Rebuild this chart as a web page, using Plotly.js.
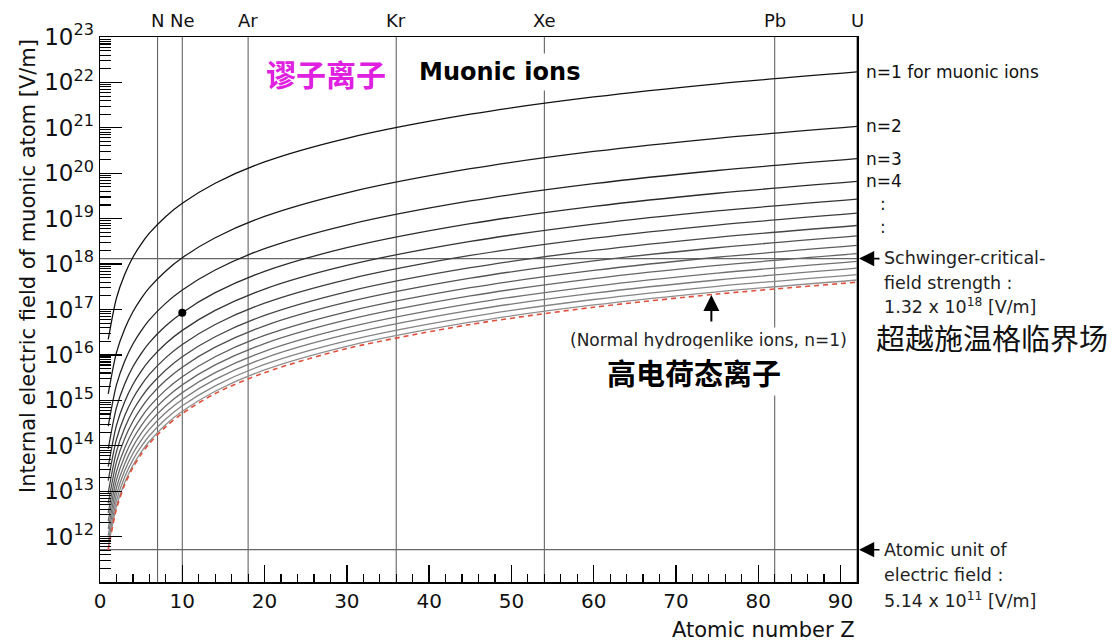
<!DOCTYPE html>
<html>
<head>
<meta charset="utf-8">
<script src="https://cdn.plot.ly/plotly-3.0.1.min.js"></script>
<style>html,body{margin:0;padding:0;background:#fff;}#chart{width:1120px;height:642px;}</style>
</head>
<body>
<div id="chart"></div>
<script>
// Atomic number Z sample points
const Z = [1, 2, 3, 4, 5, 6, 8, 10, 14, 20, 30, 45, 60, 75, 92];
const muon_n1  = [16.34, 17.25, 17.77, 18.15, 18.44, 18.68, 19.05, 19.34, 19.78, 20.25, 20.77, 21.30, 21.68, 21.97, 22.23];
const muon_n2  = [15.14, 16.05, 16.57, 16.95, 17.24, 17.48, 17.85, 18.14, 18.58, 19.05, 19.57, 20.10, 20.48, 20.77, 21.03];
const muon_n3  = [14.43, 15.34, 15.86, 16.24, 16.53, 16.77, 17.14, 17.43, 17.87, 18.34, 18.86, 19.39, 19.77, 20.06, 20.32];
const muon_n4  = [13.93, 14.84, 15.36, 15.74, 16.03, 16.27, 16.64, 16.93, 17.37, 17.84, 18.36, 18.89, 19.27, 19.56, 19.82];
const muon_n5  = [13.54, 14.45, 14.97, 15.35, 15.64, 15.88, 16.25, 16.54, 16.98, 17.45, 17.97, 18.50, 18.88, 19.17, 19.43];
const muon_n6  = [13.23, 14.14, 14.66, 15.04, 15.33, 15.57, 15.94, 16.23, 16.67, 17.14, 17.66, 18.19, 18.57, 18.86, 19.12];
const muon_n7  = [12.96, 13.87, 14.39, 14.77, 15.06, 15.30, 15.67, 15.96, 16.40, 16.87, 17.39, 17.92, 18.30, 18.59, 18.85];
const muon_n8  = [12.73, 13.64, 14.16, 14.54, 14.83, 15.07, 15.44, 15.73, 16.17, 16.64, 17.16, 17.69, 18.07, 18.36, 18.62];
const muon_n9  = [12.52, 13.43, 13.95, 14.33, 14.62, 14.86, 15.23, 15.52, 15.96, 16.43, 16.95, 17.48, 17.86, 18.15, 18.41];
const muon_n10 = [12.34, 13.25, 13.77, 14.15, 14.44, 14.68, 15.05, 15.34, 15.78, 16.25, 16.77, 17.30, 17.68, 17.97, 18.23];
const muon_n11 = [12.17, 13.08, 13.60, 13.98, 14.27, 14.51, 14.88, 15.17, 15.61, 16.08, 16.60, 17.13, 17.51, 17.80, 18.06];
const muon_n12 = [12.02, 12.93, 13.45, 13.83, 14.12, 14.36, 14.73, 15.02, 15.46, 15.93, 16.45, 16.98, 17.36, 17.65, 17.91];
const muon_n13 = [11.88, 12.79, 13.31, 13.69, 13.98, 14.22, 14.59, 14.88, 15.32, 15.79, 16.31, 16.84, 17.22, 17.51, 17.77];
const muon_n14 = [11.76, 12.67, 13.19, 13.57, 13.86, 14.10, 14.47, 14.76, 15.20, 15.67, 16.19, 16.72, 17.10, 17.39, 17.65];
// normal hydrogenlike ions, n=1 (red dashed)
const hydrogenlike = [11.71, 12.61, 13.14, 13.52, 13.81, 14.05, 14.42, 14.71, 15.15, 15.61, 16.14, 16.67, 17.05, 17.34, 17.60];

const muonSeries = [muon_n1, muon_n2, muon_n3, muon_n4, muon_n5, muon_n6, muon_n7,
                    muon_n8, muon_n9, muon_n10, muon_n11, muon_n12, muon_n13, muon_n14];
const muonLabels = ['n=1 for muonic ions', 'n=2', 'n=3', 'n=4'];

// reference elements
const elementNames = ['N', 'Ne', 'Ar', 'Kr', 'Xe', 'Pb', 'U'];
const elementZ = [7, 10, 18, 36, 54, 82, 92];

// reference field levels [V/m]
const schwingerField = 1.32e18;
const atomicUnitField = 5.14e11;

// marked point (Ne, n=4)
const markZ = [10];
const markE = [8.5e16];

// tick labels
const yTickExp = [12, 13, 14, 15, 16, 17, 18, 19, 20, 21, 22, 23];
const xTickVals = [0, 10, 20, 30, 40, 50, 60, 70, 80, 90];

const FONT = 'DejaVu Sans, Liberation Sans, Arial, sans-serif';
const CJK = 'Noto Sans CJK SC, sans-serif';

const L = 100, R = 857, T = 37, B = 582;
const px = p => (p - L) / (R - L);
const py = p => (B - p) / (B - T);

const pow10 = a => a.map(v => Math.pow(10, v));

const traces = [];
elementZ.forEach(z => {
  traces.push({x: [z, z], y: [1e11, 1e23], mode: 'lines', line: {color: '#555', width: 1}, hoverinfo: 'skip'});
});
[schwingerField, atomicUnitField].forEach(v => {
  traces.push({x: [0, 92], y: [v, v], mode: 'lines', line: {color: '#666', width: 1.2}, hoverinfo: 'skip'});
});
const greys = ['#111111','#1a1a1a','#222222','#2b2b2b','#333333','#3d3d3d','#474747',
               '#525252','#5c5c5c','#666666','#707070','#7a7a7a','#858585','#8f8f8f'];
for (let i = muonSeries.length - 1; i >= 0; i--) {
  traces.push({x: Z, y: pow10(muonSeries[i]), mode: 'lines',
    line: {color: greys[i], width: 1.3, shape: 'spline', smoothing: 0.8}, hoverinfo: 'skip'});
}
traces.push({x: Z, y: pow10(hydrogenlike), mode: 'lines',
  line: {color: '#e0503c', width: 1.6, dash: '5px,4px', shape: 'spline', smoothing: 0.8}, hoverinfo: 'skip'});
traces.push({x: markZ, y: markE, mode: 'markers', marker: {color: '#000', size: 8}, hoverinfo: 'skip'});

const yMinor = [];
for (let e = 11; e < 23; e++) for (let m = 2; m <= 9; m++) yMinor.push(m * Math.pow(10, e));

const ann = [];
elementZ.forEach((z, i) => ann.push({xref: 'x', yref: 'paper', x: z, y: py(20), yanchor: 'middle',
  xanchor: 'center', text: elementNames[i], showarrow: false, font: {family: FONT, size: 18, color: '#111'}}));
muonLabels.forEach((t, i) => ann.push({xref: 'paper', yref: 'y', x: px(864), y: muonSeries[i][muonSeries[i].length - 1],
  xanchor: 'left', yanchor: 'middle', text: t, showarrow: false, font: {family: FONT, size: 17, color: '#111'}}));
[204, 227].forEach(p => ann.push({xref: 'paper', yref: 'paper', x: px(883), y: py(p), xanchor: 'center', yanchor: 'middle',
  text: ':', showarrow: false, font: {family: FONT, size: 17, color: '#222'}}));
// Schwinger arrow + text
ann.push({xref: 'paper', yref: 'y', x: px(859), y: Math.log10(schwingerField), text: '', showarrow: true,
  ax: 22, ay: 0, arrowhead: 2, arrowsize: 1.9, arrowwidth: 1.6, arrowcolor: '#000'});
[['Schwinger-critical-', 258], ['field strength :', 283], ['1.32 x 10<sup>18</sup> [V/m]', 306]].forEach(d =>
  ann.push({xref: 'paper', yref: 'paper', x: px(882), y: py(d[1]), xanchor: 'left', yanchor: 'middle', text: d[0],
    showarrow: false, font: {family: FONT, size: 17.5, color: '#222'}}));
ann.push({xref: 'paper', yref: 'paper', x: px(992), y: py(337), xanchor: 'center', yanchor: 'middle',
  text: '超越施温格临界场', showarrow: false, font: {family: CJK, size: 29, color: '#111'}});
// Atomic unit arrow + text
ann.push({xref: 'paper', yref: 'y', x: px(859), y: Math.log10(atomicUnitField), text: '', showarrow: true,
  ax: 22, ay: 0, arrowhead: 2, arrowsize: 1.9, arrowwidth: 1.6, arrowcolor: '#000'});
[['Atomic unit of', 550], ['electric field :', 575], ['5.14 x 10<sup>11</sup> [V/m]', 600]].forEach(d =>
  ann.push({xref: 'paper', yref: 'paper', x: px(882), y: py(d[1]), xanchor: 'left', yanchor: 'middle', text: d[0],
    showarrow: false, font: {family: FONT, size: 17.5, color: '#222'}}));
// normal hydrogenlike arrow + labels
ann.push({xref: 'x', yref: 'y', x: 74.3, y: 17.32, text: '', showarrow: true, ax: 0, ay: 28,
  arrowhead: 2, arrowsize: 1.6, arrowwidth: 2, arrowcolor: '#000'});
ann.push({xref: 'paper', yref: 'paper', x: px(708), y: py(340), xanchor: 'center', yanchor: 'middle',
  text: '(Normal hydrogenlike ions, n=1)', showarrow: false, bgcolor: '#fff', borderpad: 2,
  font: {family: FONT, size: 17, color: '#222'}});
ann.push({xref: 'paper', yref: 'paper', x: px(694), y: py(372), xanchor: 'center', yanchor: 'middle',
  text: '<b>高电荷态离子</b>', showarrow: false, bgcolor: '#fff', borderpad: 2,
  font: {family: CJK, size: 29, color: '#000'}});
ann.push({xref: 'paper', yref: 'paper', x: px(326), y: py(73), xanchor: 'center', yanchor: 'middle',
  text: '<b>谬子离子</b>', showarrow: false, font: {family: CJK, size: 30, color: '#e020e0'}});
ann.push({xref: 'paper', yref: 'paper', x: px(499), y: py(72), xanchor: 'center', yanchor: 'middle',
  text: '<b>Muonic ions</b>', showarrow: false, bgcolor: '#fff', borderpad: 4,
  font: {family: FONT, size: 24, color: '#000'}});
ann.push({xref: 'paper', yref: 'paper', x: 1, y: py(630), xanchor: 'right', yanchor: 'middle',
  text: 'Atomic number Z', showarrow: false, font: {family: FONT, size: 21, color: '#111'}});
ann.push({xref: 'paper', yref: 'paper', x: px(28), y: py(266), xanchor: 'center', yanchor: 'middle', textangle: -90,
  text: 'Internal electric field of muonic atom [V/m]', showarrow: false, font: {family: FONT, size: 21, color: '#111'}});

const layout = {
  width: 1120, height: 642,
  margin: {l: L, r: 1120 - R, t: T, b: 642 - B, pad: 0},
  paper_bgcolor: '#fff', plot_bgcolor: '#fff',
  showlegend: false, hovermode: false,
  font: {family: FONT, color: '#111'},
  xaxis: {
    range: [0, 92], showgrid: false, zeroline: false,
    showline: true, linecolor: '#000', linewidth: 1.5, mirror: true,
    ticks: 'inside', ticklen: 17, tickwidth: 1.3, tickcolor: '#000',
    tickmode: 'array', tickvals: xTickVals, ticktext: xTickVals.map(String),
    tickfont: {family: FONT, size: 20, color: '#111'},
    minor: {ticks: 'inside', ticklen: 8, tickwidth: 1.2, tickcolor: '#000', dtick: 2, tick0: 0}
  },
  yaxis: {
    type: 'log', range: [11, 23], showgrid: false, zeroline: false,
    showline: true, linecolor: '#000', linewidth: 1.5, mirror: true,
    ticks: 'inside', ticklen: 22, tickwidth: 1.3, tickcolor: '#000',
    tickmode: 'array', tickvals: yTickExp.map(e => Math.pow(10, e)),
    ticktext: yTickExp.map(e => '10<sup>' + e + '</sup>'),
    tickfont: {family: FONT, size: 23, color: '#111'},
    minor: {ticks: 'inside', ticklen: 11, tickwidth: 1.1, tickcolor: '#000', tickmode: 'array', tickvals: yMinor}
  },
  annotations: ann
};

Plotly.newPlot('chart', traces, layout, {staticPlot: true, displayModeBar: false});
</script>
</body>
</html>
